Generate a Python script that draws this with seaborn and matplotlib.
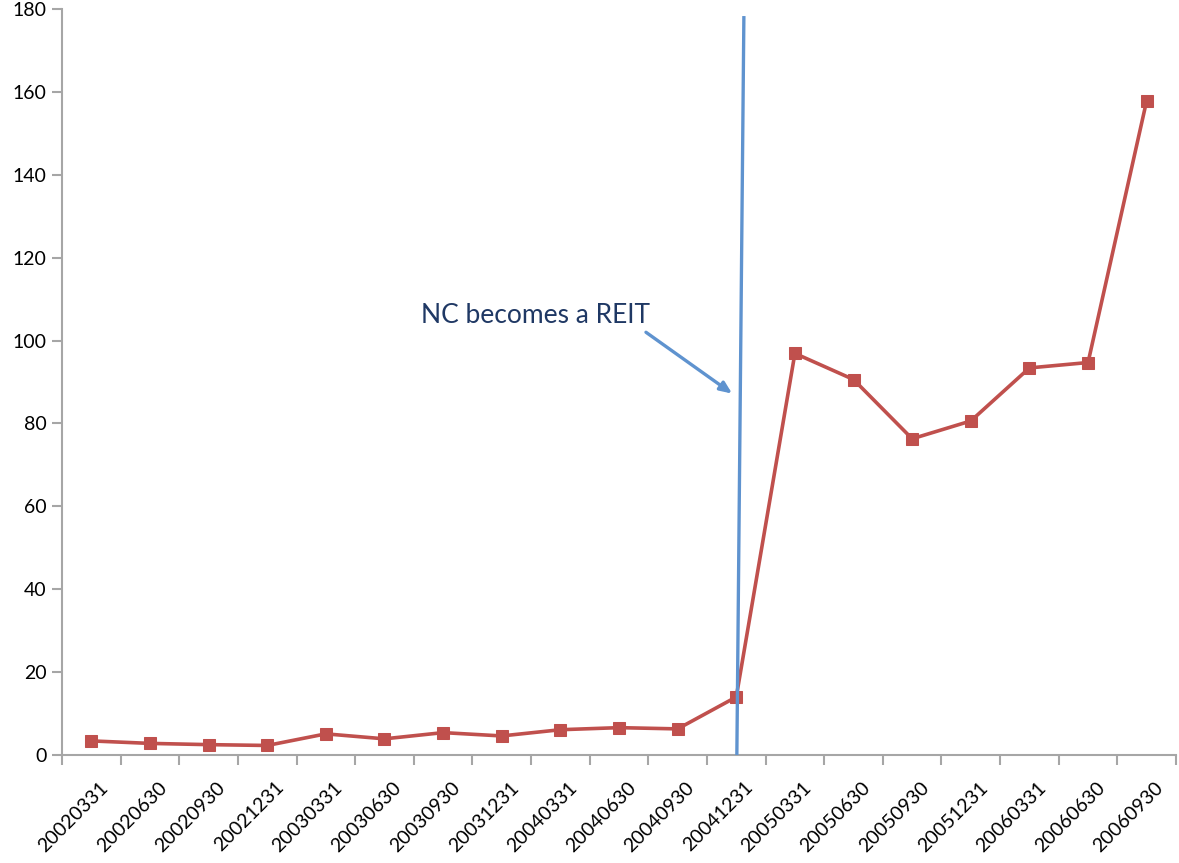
import matplotlib
matplotlib.use("Agg")
import matplotlib.pyplot as plt
import matplotlib.transforms as mtransforms
import seaborn as sns
import pandas as pd
import numpy as np

# -----------------------------
# DATA
# -----------------------------
quarters = [
    "20020331", "20020630", "20020930", "20021231",
    "20030331", "20030630", "20030930", "20031231",
    "20040331", "20040630", "20040930", "20041231",
    "20050331", "20050630", "20050930", "20051231",
    "20060331", "20060630", "20060930",
]
values = [
    3.4, 2.8, 2.5, 2.3,
    5.1, 3.9, 5.4, 4.6,
    6.1, 6.6, 6.3, 14.0,
    96.9, 90.6, 76.3, 80.6,
    93.4, 94.7, 157.9,
]

# REIT conversion marker line and callout (category index / value units)
reit_line_x = [11.01, 11.13]
reit_line_y = [0, 178.3]
reit_label = "NC becomes a REIT"
label_pos = (5.62, 104.2)
arrow_tail = (9.46, 102.0)
arrow_head = (10.93, 87.2)

df = pd.DataFrame({"quarter": quarters, "value": values})
df["pos"] = np.arange(len(df))

# -----------------------------
# PLOT SETUP
# -----------------------------
sns.set_style("white")
plt.rcParams["font.family"] = ["Lato", "DejaVu Sans"]

fig = plt.figure(figsize=(11.79, 8.63), dpi=100)
ax = fig.add_axes([62 / 1179, 1 - 755 / 863, (1176 - 62) / 1179, (755 - 9) / 863])

red = "#C0504D"
blue = "#5F93CF"
grey = "#A6A6A6"

sns.lineplot(data=df, x="pos", y="value", color=red, linewidth=2.6,
             marker="s", markersize=9, markeredgecolor=red, zorder=3, ax=ax)

# vertical REIT line
ax.plot(reit_line_x, reit_line_y, color=blue, linewidth=2.4, zorder=4,
        solid_capstyle="butt")

# callout
ax.text(label_pos[0], label_pos[1], reit_label, fontsize=19,
        color="#1F3864", ha="left", va="baseline")
ax.annotate("", xy=arrow_head, xytext=arrow_tail,
            arrowprops=dict(arrowstyle="-|>,head_length=0.7,head_width=0.3",
                            lw=2.4, color=blue, shrinkA=0, shrinkB=0))

# -----------------------------
# AXES
# -----------------------------
ax.set_xlim(-0.5, len(quarters) - 0.5)
ax.set_ylim(0, 180)
ax.set_yticks(range(0, 181, 20))
ax.set_xticks(df["pos"])
ax.set_xticklabels(quarters, rotation=45, ha="right", va="top",
                   rotation_mode="anchor", fontsize=14, color="black")
ax.set_xticks(np.arange(-0.5, len(quarters), 1), minor=True)
ax.tick_params(axis="x", which="major", length=0, pad=17, bottom=True)
ax.tick_params(axis="x", which="minor", length=7, width=1.5, color=grey,
               direction="out", bottom=True)
ax.tick_params(axis="y", length=7, width=1.5, color=grey, direction="out",
               labelsize=14, labelcolor="black", pad=4, left=True)

# nudge rotated labels slightly right of category centre
shift = mtransforms.ScaledTranslation(8 / 100, 0, fig.dpi_scale_trans)
for lbl in ax.get_xticklabels():
    lbl.set_transform(lbl.get_transform() + shift)

ax.set_xlabel("")
ax.set_ylabel("")
for side in ["top", "right"]:
    ax.spines[side].set_visible(False)
for side in ["left", "bottom"]:
    ax.spines[side].set_color(grey)
    ax.spines[side].set_linewidth(1.5)
ax.grid(False)

fig.savefig("out.png", dpi=100)
plt.close(fig)
